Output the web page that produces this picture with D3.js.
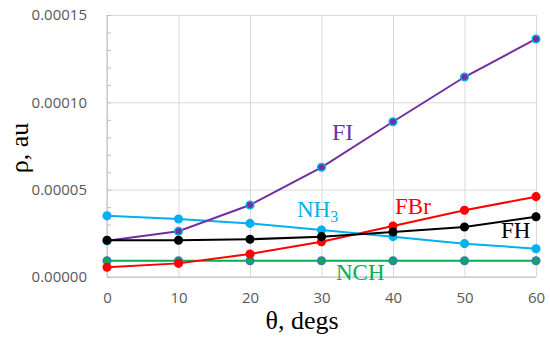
<!DOCTYPE html>
<html>
<head>
<meta charset="utf-8">
<script src="https://cdn.jsdelivr.net/npm/d3@7"></script>
<style>
  body { margin: 0; background: #fff; }
  svg { display: block; }
</style>
</head>
<body>
<script>
// data
var angles = [0, 10, 20, 30, 40, 50, 60];
var fiVals  = [0.0000208, 0.0000262, 0.0000412, 0.0000628, 0.0000889, 0.0001145, 0.0001363];
var nh3Vals = [0.0000351, 0.0000332, 0.0000307, 0.0000269, 0.0000231, 0.0000191, 0.0000162];
var fhVals  = [0.0000210, 0.0000210, 0.0000216, 0.0000231, 0.0000258, 0.0000286, 0.0000345];
var fbrVals = [0.0000056, 0.0000078, 0.0000132, 0.0000202, 0.0000292, 0.0000382, 0.0000460];
var nchVals = [0.0000093, 0.0000093, 0.0000093, 0.0000093, 0.0000093, 0.0000093, 0.0000093];
var xTicks = [0, 10, 20, 30, 40, 50, 60];
var yTicks = [0, 0.00005, 0.00010, 0.00015];

var w = 550, h = 341;
// plot box (note: "top" is taken by window.top)
var pLeft = 107, pRight = 536, pTop = 15, pBottom = 277;

var x = d3.scaleLinear().domain([0, 60]).range([pLeft, pRight]);
var y = d3.scaleLinear().domain([0, 0.00015]).range([pBottom, pTop]);

var svg = d3.select("body").append("svg")
            .attr("width", w)
            .attr("height", h);

// gridlines
svg.append("g")
   .attr("transform", "translate(0," + pBottom + ")")
   .call(d3.axisBottom(x).tickValues(xTicks).tickSize(-(pBottom - pTop)).tickFormat(""))
   .call(function(g) {
     g.select(".domain").remove();
     g.selectAll("line").attr("stroke", "#d9d9d9").attr("stroke-width", 1);
   });

svg.append("g")
   .attr("transform", "translate(" + pLeft + ",0)")
   .call(d3.axisLeft(y).tickValues(yTicks).tickSize(-(pRight - pLeft)).tickFormat(""))
   .call(function(g) {
     g.select(".domain").remove();
     g.selectAll("line").attr("stroke", "#d9d9d9").attr("stroke-width", 1);
   });

// minor ticks on y axis
svg.append("g")
   .attr("transform", "translate(" + pLeft + ",0)")
   .call(d3.axisRight(y).ticks(15).tickSize(4).tickFormat(""))
   .call(function(g) {
     g.select(".domain").remove();
     g.selectAll("line").attr("stroke", "#bfbfbf");
   });

// axis lines
svg.append("line")
   .attr("x1", pLeft).attr("x2", pLeft).attr("y1", pTop).attr("y2", pBottom)
   .attr("stroke", "#bfbfbf");
svg.append("line")
   .attr("x1", pLeft).attr("x2", pRight).attr("y1", pBottom).attr("y2", pBottom)
   .attr("stroke", "#bfbfbf");

// tick labels
svg.append("g")
   .attr("transform", "translate(" + (pLeft - 17) + ",0)")
   .call(d3.axisLeft(y).tickValues(yTicks).tickSize(0).tickFormat(d3.format(".5f")))
   .call(function(g) {
     g.select(".domain").remove();
     g.selectAll("text")
      .attr("fill", "#595959")
      .style("font-family", "'Open Sans', sans-serif")
      .style("font-size", "15px");
   });

svg.append("g")
   .attr("transform", "translate(0," + (pBottom + 12) + ")")
   .call(d3.axisBottom(x).tickValues(xTicks).tickSize(0))
   .call(function(g) {
     g.select(".domain").remove();
     g.selectAll("text")
      .attr("fill", "#595959")
      .style("font-family", "'Open Sans', sans-serif")
      .style("font-size", "15px");
   });

// axis titles
svg.append("text")
   .attr("x", 302).attr("y", 329)
   .attr("text-anchor", "middle")
   .style("font-family", "'Liberation Serif', serif")
   .style("font-size", "26px")
   .text("θ, degs");

svg.append("text")
   .attr("transform", "translate(28,148) rotate(-90)")
   .attr("text-anchor", "middle")
   .style("font-family", "'Liberation Serif', serif")
   .style("font-size", "26px")
   .text("ρ, au");

// series
var series = [
  { vals: nchVals, color: "#00b050", ring: "#4472c4" },
  { vals: fbrVals, color: "#ff0000", ring: "#ff0000" },
  { vals: nh3Vals, color: "#00b0f0", ring: "#00b0f0" },
  { vals: fiVals,  color: "#7030a0", ring: "#00b0f0" },
  { vals: fhVals,  color: "#000000", ring: "#000000" }
];

var line = d3.line()
             .x(function(d, i) { return x(angles[i]); })
             .y(function(d) { return y(d); });

series.forEach(function(s) {
  svg.append("path")
     .attr("d", line(s.vals))
     .attr("fill", "none")
     .attr("stroke", s.color)
     .attr("stroke-width", 2);

  svg.selectAll(null)
     .data(s.vals)
     .enter()
     .append("circle")
     .attr("cx", function(d, i) { return x(angles[i]); })
     .attr("cy", function(d) { return y(d); })
     .attr("r", 3.8)
     .attr("fill", s.color)
     .attr("stroke", s.ring)
     .attr("stroke-width", 1.5);
});

// series labels
function label(txt, sub, px, py, color, size) {
  var t = svg.append("text")
             .attr("x", px).attr("y", py)
             .attr("fill", color)
             .style("font-family", "'Liberation Serif', serif")
             .style("font-size", size + "px")
             .text(txt);
  if (sub) {
    t.append("tspan").attr("dy", 5).style("font-size", (size * 0.7) + "px").text(sub);
  }
}

label("FI", null, 332, 140, "#7030a0", 24);
label("NH", "3", 297, 217, "#00b0f0", 23);
label("FBr", null, 395, 214, "#ff0000", 23);
label("FH", null, 501, 238, "#000000", 23);
label("NCH", null, 336, 280, "#00b050", 23);
</script>
</body>
</html>
